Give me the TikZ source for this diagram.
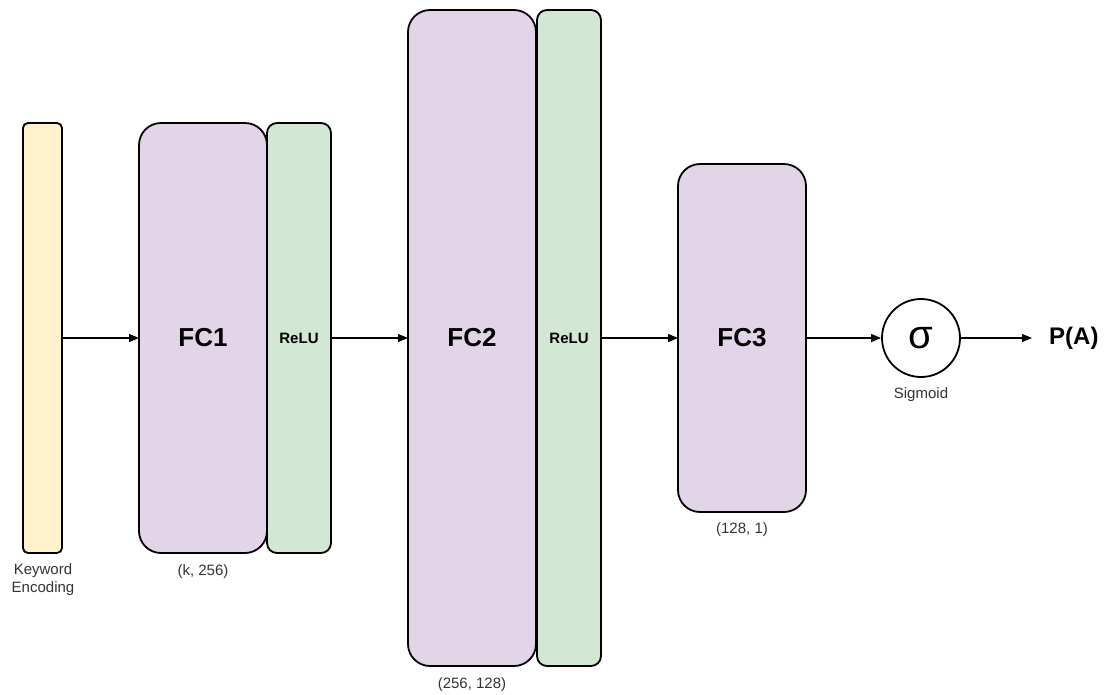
\documentclass[tikz,border=0pt]{standalone}
\usepackage{fontspec}
\setmainfont{Liberation Sans}
\usetikzlibrary{arrows.meta}
\definecolor{fcpurple}{HTML}{E1D5E7}
\definecolor{relugreen}{HTML}{D2E7D4}
\definecolor{kwyellow}{HTML}{FFF2CC}
\definecolor{lbl}{HTML}{333333}
\tikzset{
  layer/.style={draw=black, line width=1.8pt, inner sep=0pt, outer sep=0pt},
  fcbox/.style={layer, fill=fcpurple, rounded corners=22pt, font=\fontsize{26}{28}\selectfont\bfseries},
  relubox/.style={layer, fill=relugreen, rounded corners=10pt, font=\fontsize{15}{17}\selectfont\bfseries},
  kwbox/.style={layer, fill=kwyellow, rounded corners=5pt},
  sublabel/.style={font=\fontsize{15}{18}\selectfont, text=lbl, inner sep=0pt},
  conn/.style={line width=1.2pt, -{Triangle[length=10pt,width=8pt]}},
}
\begin{document}
\begin{tikzpicture}[x=1pt,y=-1pt]
\useasboundingbox (0,0) rectangle (1106,694);
% keyword encoding
\node[kwbox, minimum width=39pt, minimum height=430pt] (kw) at (42.5,338) {};
\node[sublabel, align=center] (kwl) at (43,580) {Keyword\\Encoding};
% FC1 + ReLU
\node[fcbox, minimum width=128pt, minimum height=430pt] (fc1) at (203,338) {FC1};
\node[relubox, minimum width=64pt, minimum height=430pt] (relu1) at (299,338) {ReLU};
\node[sublabel] (fc1l) at (203,572) {(k, 256)};
% FC2 + ReLU
\node[fcbox, minimum width=128pt, minimum height=656pt] (fc2) at (472,338) {FC2};
\node[relubox, minimum width=64pt, minimum height=656pt] (relu2) at (569,338) {ReLU};
\node[sublabel] (fc2l) at (472,685) {(256, 128)};
% FC3
\node[fcbox, minimum width=128pt, minimum height=348pt] (fc3) at (742,338) {FC3};
\node[sublabel] (fc3l) at (742,530) {(128, 1)};
% sigmoid
\node[draw=black, line width=1.8pt, circle, minimum size=78pt, inner sep=0pt,
      font=\fontsize{40}{42}\selectfont] (sig) at (921,338) {σ};
\node[sublabel] (sigl) at (921,395) {Sigmoid};
% output
\node[font=\fontsize{24}{28}\selectfont\bfseries, inner sep=0pt, anchor=west] (pa) at (1049,338) {P(A)};
% connectors
\draw[conn] (kw.east) -- (fc1.west);
\draw[conn] (relu1.east) -- (fc2.west);
\draw[conn] (relu2.east) -- (fc3.west);
\draw[conn] (fc3.east) -- (sig.west);
\draw[conn] (sig.east) -- ([xshift=-17pt]pa.west);
\end{tikzpicture}
\end{document}
